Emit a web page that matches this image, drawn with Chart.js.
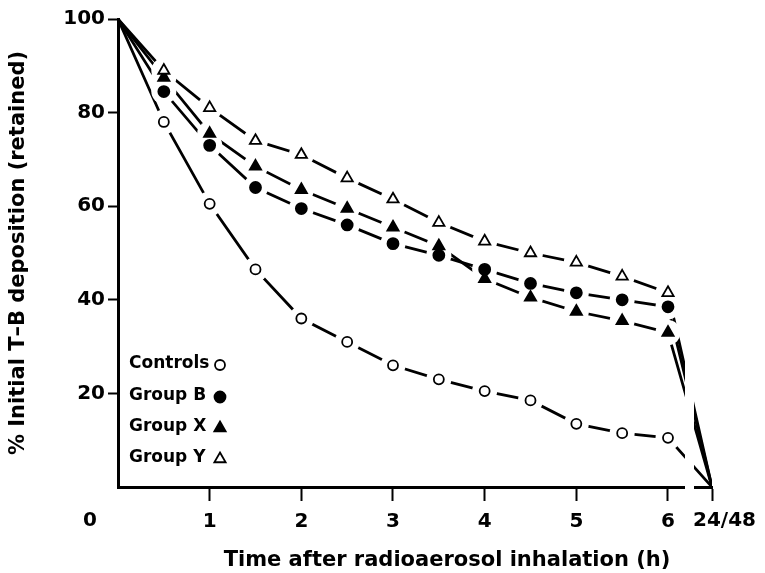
<!DOCTYPE html>
<html>
<head>
<meta charset="utf-8">
<script src="https://cdn.jsdelivr.net/npm/chart.js@4.4.1/dist/chart.umd.min.js"></script>
<style>
    html, body { margin: 0; padding: 0; background: #fff; }
    #wrap { width: 765px; height: 573px; }
</style>
</head>
<body>
<div id="wrap"><canvas id="chart" width="765" height="573"></canvas></div>
<script>
// hours after inhalation, last value of each series is the 24/48 h reading
const hours = [0, 0.5, 1, 1.5, 2, 2.5, 3, 3.5, 4, 4.5, 5, 5.5, 6];
const lateLabel = '24/48';
const controls = [100, 78, 60.5, 46.5, 36, 31, 26, 23, 20.5, 18.5, 13.5, 11.5, 10.5, 0];
const groupB = [100, 84.5, 73, 64, 59.5, 56, 52, 49.5, 46.5, 43.5, 41.5, 40, 38.5, 0];
const groupX = [100, 87.5, 75.5, 68.5, 63.5, 59.5, 55.5, 51.5, 44.5, 40.5, 37.5, 35.5, 33, 0];
const groupY = [100, 89, 81, 74, 71, 66, 61.5, 56.5, 52.5, 50, 48, 45, 41.5, 0];
const seriesNames = ['Controls', 'Group B', 'Group X', 'Group Y'];
const xTicks = [1, 2, 3, 4, 5, 6];
const yTicks = [20, 40, 60, 80, 100];

const LATE_X = 6.48; // where the 24/48 point sits after the axis break
const FONT = '"DejaVu Sans", sans-serif';
const allSeries = [controls, groupB, groupX, groupY];

const toPoints = values => values.map((v, i) => ({ x: i < hours.length ? hours[i] : LATE_X, y: v }));

const markers = [
    { pointStyle: 'circle', radius: 5, fill: '#fff' },
    { pointStyle: 'circle', radius: 5.5, fill: '#000' },
    { pointStyle: 'triangle', radius: 6.5, fill: '#000' },
    { pointStyle: 'triangle', radius: 6.5, fill: '#fff' }
];

// no marker at time 0 and at 24/48
const hasMarker = (i, n) => i > 0 && i < n - 1;

function makeDataset(name, values, m) {
    return {
        label: name,
        data: toPoints(values),
        borderColor: '#000',
        borderWidth: 2.8,
        tension: 0,
        pointStyle: m.pointStyle,
        pointRadius: 0
    };
}

function drawMarker(ctx, m, x, y) {
    ctx.fillStyle = m.fill;
    ctx.strokeStyle = '#000';
    ctx.lineWidth = 1.8;
    Chart.helpers.drawPoint(ctx, { pointStyle: m.pointStyle, radius: m.radius, borderWidth: 1.8, rotation: 0 }, x, y);
}

// white gaps around markers, markers, axis break, legend, extra labels
const decorations = {
    id: 'decorations',
    afterDatasetsDraw(chart) {
        const ctx = chart.ctx;
        const xs = chart.scales.x;
        const ys = chart.scales.y;
        const area = chart.chartArea;
        ctx.save();

        allSeries.forEach(values => {
            values.forEach((v, i) => {
                if (!hasMarker(i, values.length)) return;
                ctx.fillStyle = '#ffffff';
                ctx.beginPath();
                ctx.arc(xs.getPixelForValue(hours[i]), ys.getPixelForValue(v), 12.5, 0, Math.PI * 2);
                ctx.closePath();
                ctx.fill();
            });
        });
        allSeries.forEach((values, s) => {
            values.forEach((v, i) => {
                if (!hasMarker(i, values.length)) return;
                drawMarker(ctx, markers[s], xs.getPixelForValue(hours[i]), ys.getPixelForValue(v));
            });
        });

        const lateX = xs.getPixelForValue(LATE_X);

        // break in the axis and the lines before 24/48
        ctx.fillStyle = '#fff';
        ctx.fillRect(lateX - 27, area.top, 9, area.bottom - area.top + 4);

        ctx.fillStyle = '#000';
        ctx.font = 'bold 20px ' + FONT;
        ctx.textBaseline = 'middle';
        ctx.textAlign = 'left';
        ctx.fillText(lateLabel, lateX - 19, 521);
        ctx.textAlign = 'center';
        ctx.fillText('0', 90, 521);

        ctx.font = 'bold 21px ' + FONT;
        ctx.fillText('Time after radioaerosol inhalation (h)', 447, 561);

        // legend: name then marker
        const legendY = [364, 396, 427, 458];
        ctx.font = 'bold 17px ' + FONT;
        ctx.textAlign = 'left';
        seriesNames.forEach((name, i) => {
            ctx.fillStyle = '#000';
            ctx.fillText(name, 129, legendY[i]);
            drawMarker(ctx, markers[i], 220, legendY[i] + 1);
        });
        ctx.restore();
    }
};

new Chart(document.getElementById('chart'), {
    type: 'line',
    data: {
        datasets: [
            makeDataset(seriesNames[0], controls, markers[0]),
            makeDataset(seriesNames[1], groupB, markers[1]),
            makeDataset(seriesNames[2], groupX, markers[2]),
            makeDataset(seriesNames[3], groupY, markers[3])
        ]
    },
    options: {
        responsive: false,
        animation: false,
        layout: { padding: { left: 0, top: 19, right: 53, bottom: 0 } },
        plugins: {
            legend: { display: false },
            tooltip: { enabled: false }
        },
        scales: {
            x: {
                type: 'linear',
                min: 0,
                max: LATE_X,
                afterBuildTicks: s => { s.ticks = xTicks.concat([LATE_X]).map(v => ({ value: v })); },
                afterFit: s => { s.height = 86; },
                grid: { drawOnChartArea: false, tickLength: 14, tickWidth: 2, tickColor: '#000' },
                border: { color: '#000', width: 3 },
                ticks: {
                    color: '#000',
                    font: { family: FONT, size: 20, weight: 'bold' },
                    padding: 9,
                    maxRotation: 0,
                    autoSkip: false,
                    callback: v => v === LATE_X ? '' : String(v)
                }
            },
            y: {
                min: 0,
                max: 100,
                afterBuildTicks: s => { s.ticks = yTicks.map(v => ({ value: v })); },
                afterFit: s => { s.width = 118; },
                grid: { drawOnChartArea: false, tickLength: 10, tickWidth: 2, tickColor: '#000' },
                border: { color: '#000', width: 3 },
                ticks: {
                    color: '#000',
                    font: { family: FONT, size: 20, weight: 'bold' },
                    padding: 3
                },
                title: {
                    display: true,
                    text: '% Initial T–B deposition (retained)',
                    color: '#000',
                    font: { family: FONT, size: 21, weight: 'bold' },
                    padding: { top: 6, bottom: 0 }
                }
            }
        }
    },
    plugins: [decorations]
});
</script>
</body>
</html>
